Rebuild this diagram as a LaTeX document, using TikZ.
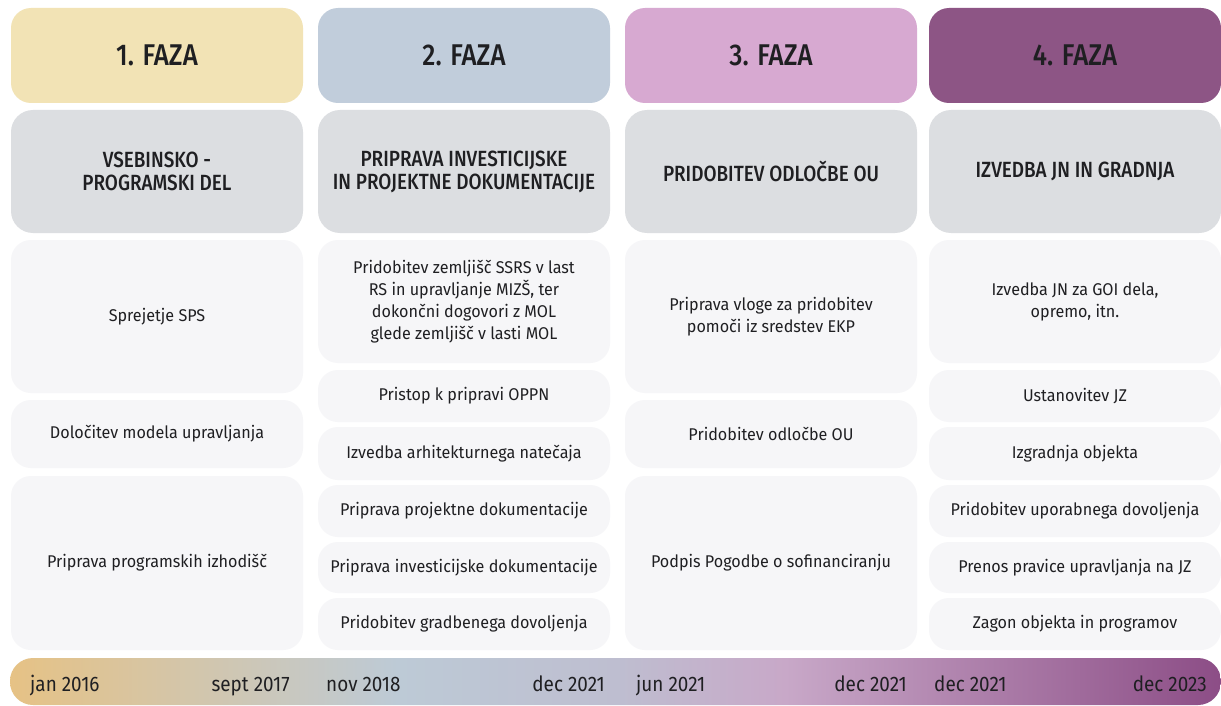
\documentclass[tikz,border=0pt]{standalone}
\usepackage{fontspec}
\setmainfont[FakeStretch=0.95]{Fira Sans}
\newfontfamily\medfont[FakeStretch=0.86]{Fira Sans Medium}
\newfontfamily\datefont[FakeStretch=0.9]{Fira Sans}
\usetikzlibrary{positioning}

\definecolor{faza1}{HTML}{F2E3B5}
\definecolor{faza2}{HTML}{C1CDDB}
\definecolor{faza3}{HTML}{D7A9D1}
\definecolor{faza4}{HTML}{8D5585}
\definecolor{titlegray}{HTML}{DCDEE1}
\definecolor{boxgray}{HTML}{F6F6F8}
\definecolor{ink}{HTML}{1F1F22}
\definecolor{tlA}{HTML}{E6C285}
\definecolor{tlB}{HTML}{BDCAD6}
\definecolor{tlC}{HTML}{BEBED0}
\definecolor{tlD}{HTML}{C8A8C8}
\definecolor{tlE}{HTML}{8C4D86}
\pgfdeclarehorizontalshading{timeline}{100bp}{color(0bp)=(tlA); color(25bp)=(tlA); color(41bp)=(tlB); color(50bp)=(tlC); color(57bp)=(tlD); color(75bp)=(tlE); color(100bp)=(tlE)}

\begin{document}
\begin{tikzpicture}[x=1pt, y=-1pt, text=ink,
  hdr/.style={rounded corners=20pt, minimum width=292pt, minimum height=95pt, font=\medfont\fontsize{30}{36}\selectfont},
  ttl/.style={fill=titlegray, rounded corners=22pt, minimum width=292pt, minimum height=123pt, align=center, font=\medfont\fontsize{22}{23}\selectfont},
  stepbox/.style={fill=boxgray, rounded corners=20pt, minimum width=292pt, align=center, font=\fontsize{17}{22}\selectfont},
  datum/.style={inner sep=0pt, font=\datefont\fontsize{21}{24}\selectfont}]

\fill[white] (0,0) rectangle (1221,706);
\useasboundingbox (0,0) rectangle (1221,706);

% phases
\node[hdr, fill=faza1] (p1) at (157, 55.5) {1. FAZA};
\node[hdr, fill=faza2] (p2) at (464, 55.5) {2. FAZA};
\node[hdr, fill=faza3] (p3) at (771, 55.5) {3. FAZA};
\node[hdr, fill=faza4] (p4) at (1075, 55.5) {4. FAZA};

\node[ttl] (t1) at (157, 171.5) {VSEBINSKO -\\PROGRAMSKI DEL};
\node[ttl] (t2) at (464, 171.5) {PRIPRAVA INVESTICIJSKE\\IN PROJEKTNE DOKUMENTACIJE};
\node[ttl] (t3) at (771, 171.5) {PRIDOBITEV ODLOČBE OU};
\node[ttl] (t4) at (1075, 171.5) {IZVEDBA JN IN GRADNJA};

% 1. faza
\node[stepbox, minimum height=153pt] (a1) at (157, 316.5) {Sprejetje SPS};
\node[stepbox, minimum height=68pt] (a2) at (157, 434) {Določitev modela upravljanja};
\node[stepbox, minimum height=174pt] (a3) at (157, 563) {Priprava programskih izhodišč};

% 2. faza
\node[stepbox, minimum height=123pt] (b1) at (464, 301.5) {Pridobitev zemljišč SSRS v last\\RS in upravljanje MIZŠ, ter\\dokončni dogovori z MOL\\glede zemljišč v lasti MOL};
\node[stepbox, minimum height=52pt] (b2) at (464, 396) {Pristop k pripravi OPPN};
\node[stepbox, minimum height=53pt] (b3) at (464, 453.5) {Izvedba arhitekturnega natečaja};
\node[stepbox, minimum height=52pt] (b4) at (464, 511) {Priprava projektne dokumentacije};
\node[stepbox, minimum height=51pt] (b5) at (464, 567.5) {Priprava investicijske dokumentacije};
\node[stepbox, minimum height=52pt] (b6) at (464, 624) {Pridobitev gradbenega dovoljenja};

% 3. faza
\node[stepbox, minimum height=153pt] (c1) at (771, 316.5) {Priprava vloge za pridobitev\\pomoči iz sredstev EKP};
\node[stepbox, minimum height=68pt] (c2) at (771, 434) {Pridobitev odločbe OU};
\node[stepbox, minimum height=174pt] (c3) at (771, 563) {Podpis Pogodbe o sofinanciranju};

% 4. faza
\node[stepbox, minimum height=123pt] (d1) at (1075, 301.5) {Izvedba JN za GOI dela,\\opremo, itn.};
\node[stepbox, minimum height=52pt] (d2) at (1075, 396) {Ustanovitev JZ};
\node[stepbox, minimum height=53pt] (d3) at (1075, 453.5) {Izgradnja objekta};
\node[stepbox, minimum height=52pt] (d4) at (1075, 511) {Pridobitev uporabnega dovoljenja};
\node[stepbox, minimum height=51pt] (d5) at (1075, 567.5) {Prenos pravice upravljanja na JZ};
\node[stepbox, minimum height=52pt] (d6) at (1075, 624) {Zagon objekta in programov};

% timeline
\shade[shading=timeline, rounded corners=23pt] (10,658) rectangle (1221,705);

\node[datum, anchor=base west] (j16) at (30, 691) {jan 2016};
\node[datum, anchor=base east] (s17) at (290, 691) {sept 2017};
\node[datum, anchor=base west] (n18) at (326, 691) {nov 2018};
\node[datum, anchor=base east] (d21a) at (605, 691) {dec 2021};
\node[datum, anchor=base west] (j21) at (636, 691) {jun 2021};
\node[datum, anchor=base east] (d21b) at (907, 691) {dec 2021};
\node[datum, anchor=base west] (d21c) at (934, 691) {dec 2021};
\node[datum, anchor=base east] (d23) at (1207, 691) {dec 2023};

\end{tikzpicture}
\end{document}
